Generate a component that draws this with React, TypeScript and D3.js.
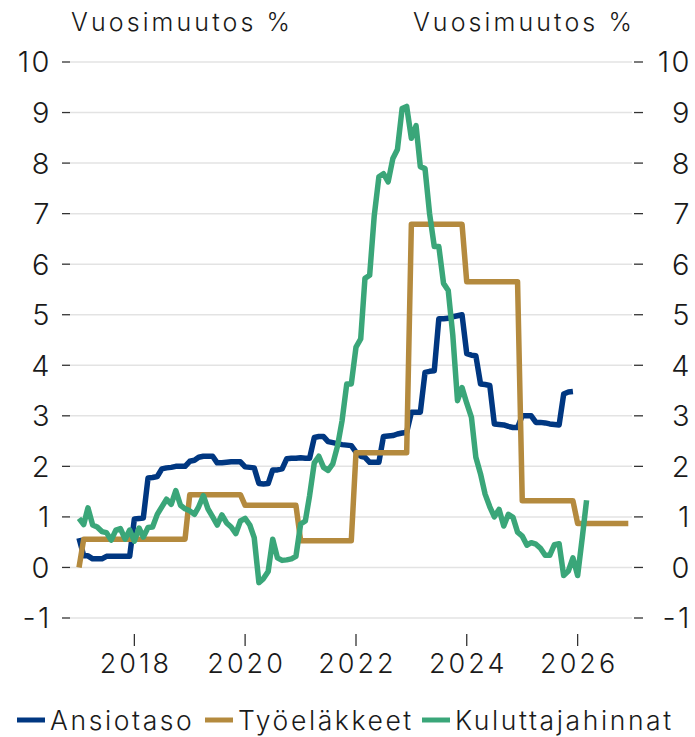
import React from "react";
import * as d3 from "d3";

const START = new Date(2017, 0, 1);

// Monthly year-on-year change, %, starting January 2017
const ansiotaso = [
  0.58, 0.23, 0.23, 0.17, 0.17, 0.17, 0.22, 0.22, 0.22, 0.22, 0.22, 0.22,
  0.96, 0.97, 0.98, 1.77, 1.78, 1.8, 1.95, 1.97, 1.98, 2.0, 2.0, 2.0,
  2.1, 2.12, 2.18, 2.2, 2.2, 2.2, 2.07, 2.07, 2.08, 2.09, 2.09, 2.09,
  1.99, 1.98, 1.97, 1.66, 1.65, 1.66, 1.93, 1.93, 1.95, 2.15, 2.16, 2.16,
  2.17, 2.16, 2.16, 2.57, 2.59, 2.59, 2.49, 2.47, 2.45, 2.43, 2.42, 2.41,
  2.28, 2.2, 2.18, 2.08, 2.08, 2.08, 2.59, 2.6, 2.61, 2.64, 2.66, 2.67,
  3.07, 3.07, 3.07, 3.86, 3.88, 3.89, 4.92, 4.92, 4.93, 4.96, 4.98, 5.0,
  4.23, 4.2, 4.19, 3.63, 3.62, 3.6, 2.84, 2.83, 2.82, 2.79, 2.77, 2.77,
  3.0, 3.0, 3.0, 2.87, 2.87, 2.86, 2.84, 2.83, 2.82, 3.43, 3.47, 3.48,
];

const tyoelakkeet = [
  0.0, 0.56, 0.56, 0.56, 0.56, 0.56, 0.56, 0.56, 0.56, 0.56, 0.56, 0.56,
  0.56, 0.56, 0.56, 0.56, 0.56, 0.56, 0.56, 0.56, 0.56, 0.56, 0.56, 0.56,
  1.44, 1.44, 1.44, 1.44, 1.44, 1.44, 1.44, 1.44, 1.44, 1.44, 1.44, 1.44,
  1.23, 1.23, 1.23, 1.23, 1.23, 1.23, 1.23, 1.23, 1.23, 1.23, 1.23, 1.23,
  0.53, 0.53, 0.53, 0.53, 0.53, 0.53, 0.53, 0.53, 0.53, 0.53, 0.53, 0.53,
  2.27, 2.27, 2.27, 2.27, 2.27, 2.27, 2.27, 2.27, 2.27, 2.27, 2.27, 2.27,
  6.79, 6.79, 6.79, 6.79, 6.79, 6.79, 6.79, 6.79, 6.79, 6.79, 6.79, 6.79,
  5.65, 5.65, 5.65, 5.65, 5.65, 5.65, 5.65, 5.65, 5.65, 5.65, 5.65, 5.65,
  1.32, 1.32, 1.32, 1.32, 1.32, 1.32, 1.32, 1.32, 1.32, 1.32, 1.32, 1.32,
  0.87, 0.87, 0.87, 0.87, 0.87, 0.87, 0.87, 0.87, 0.87, 0.87, 0.87, 0.87,
];

const kuluttajahinnat = [
  0.97, 0.85, 1.18, 0.84, 0.8, 0.71, 0.69, 0.54, 0.74, 0.77, 0.56, 0.74,
  0.52, 0.78, 0.6, 0.79, 0.8, 1.05, 1.2, 1.35, 1.25, 1.52, 1.23, 1.16,
  1.12, 1.05, 1.2, 1.42, 1.16, 1.0, 0.84, 1.04, 0.88, 0.8, 0.67, 0.92,
  0.97, 0.84, 0.59, -0.3, -0.22, -0.08, 0.56, 0.19, 0.14, 0.15, 0.17, 0.22,
  0.86, 0.92, 1.42, 2.07, 2.2, 1.98, 1.92, 2.05, 2.4, 2.9, 3.63, 3.63,
  4.36, 4.52, 5.72, 5.78, 6.95, 7.73, 7.79, 7.63, 8.09, 8.27, 9.08, 9.12,
  8.49, 8.74, 7.93, 7.89, 7.0, 6.35, 6.35, 5.62, 5.48, 4.6, 3.3, 3.56,
  3.25, 2.97, 2.18, 1.85, 1.45, 1.2, 1.0, 1.15, 0.82, 1.05, 0.99, 0.7,
  0.62, 0.44, 0.49, 0.46, 0.38, 0.24, 0.24, 0.45, 0.47, -0.16, -0.07, 0.19,
  -0.16, 0.6, 1.33,
];

const yTicks = [-1, 0, 1, 2, 3, 4, 5, 6, 7, 8, 9, 10];
const xTickYears = [2018, 2020, 2022, 2024, 2026];
const axisTitle = "Vuosimuutos %";

const seriesList = [
  { name: "Ansiotaso", values: ansiotaso, color: "#003781" },
  { name: "Työeläkkeet", values: tyoelakkeet, color: "#b48a3e" },
  { name: "Kuluttajahinnat", values: kuluttajahinnat, color: "#3aa679" },
];

const W = 695;
const H = 737;
const FONT = "Inter, 'DejaVu Sans', sans-serif";

export default function App() {
  const x = d3
    .scaleTime()
    .domain([new Date(2017, 0, 1), new Date(2027, 0, 1)])
    .range([79, 633]);
  const y = d3.scaleLinear().domain([-1, 10]).range([618, 62]);
  const gridLeft = 70;
  const gridRight = 632;

  const line = d3
    .line<number>()
    .x((_, i) => x(d3.timeMonth.offset(START, i)))
    .y((d) => y(d))
    .curve(d3.curveLinear);

  const legendX = [17, 205, 422];

  return (
    <svg
      width={W}
      height={H}
      style={{ position: "absolute", left: 0, top: 0, background: "#fff" }}
      fontFamily={FONT}
    >
      <rect x={0} y={0} width={W} height={H} fill="#fff" />
      {/* titles */}
      <text x={71} y={31} fontSize={25} fill="#1a1a1a" fontWeight={300} letterSpacing={3.1}>
        {axisTitle}
      </text>
      <text x={635} y={31} fontSize={25} fill="#1a1a1a" fontWeight={300} letterSpacing={3.1} textAnchor="end">
        {axisTitle}
      </text>

      {/* gridlines & y ticks */}
      {yTicks.map((t) => (
        <g key={t}>
          <line x1={gridLeft} x2={gridRight} y1={y(t)} y2={y(t)} stroke="#e3e3e3" strokeWidth={1.5} />
          <line x1={62} x2={70} y1={y(t)} y2={y(t)} stroke="#333" strokeWidth={1.3} />
          <line x1={634} x2={643} y1={y(t)} y2={y(t)} stroke="#333" strokeWidth={1.3} />
          <text x={52} y={y(t)} dy="0.36em" fontSize={29} fontWeight={300} fill="#1a1a1a" textAnchor="end" letterSpacing={2.5}>
            {t}
          </text>
          <text x={692} y={y(t)} dy="0.36em" fontSize={29} fontWeight={300} fill="#1a1a1a" textAnchor="end" letterSpacing={2.5}>
            {t}
          </text>
        </g>
      ))}

      {/* x ticks */}
      {xTickYears.map((yr) => {
        const px = x(new Date(yr, 0, 1));
        return (
          <g key={yr}>
            <line x1={px} x2={px} y1={634} y2={646} stroke="#333" strokeWidth={1.3} />
            <text x={px + 1.5} y={673} fontSize={27} fontWeight={300} fill="#1a1a1a" textAnchor="middle" letterSpacing={3}>
              {yr}
            </text>
          </g>
        );
      })}

      {/* series */}
      {seriesList.map((s) => (
        <path
          key={s.name}
          d={line(s.values) || ""}
          fill="none"
          stroke={s.color}
          strokeWidth={5.5}
          strokeLinejoin="round"
        />
      ))}

      {/* legend */}
      {seriesList.map((s, i) => (
        <g key={s.name}>
          <line x1={legendX[i]} x2={legendX[i] + 28} y1={720} y2={720} stroke={s.color} strokeWidth={5} />
          <text x={legendX[i] + 33} y={720} dy="0.36em" fontSize={26.5} fontWeight={300} fill="#1a1a1a" letterSpacing={2.6}>
            {s.name}
          </text>
        </g>
      ))}
    </svg>
  );
}
